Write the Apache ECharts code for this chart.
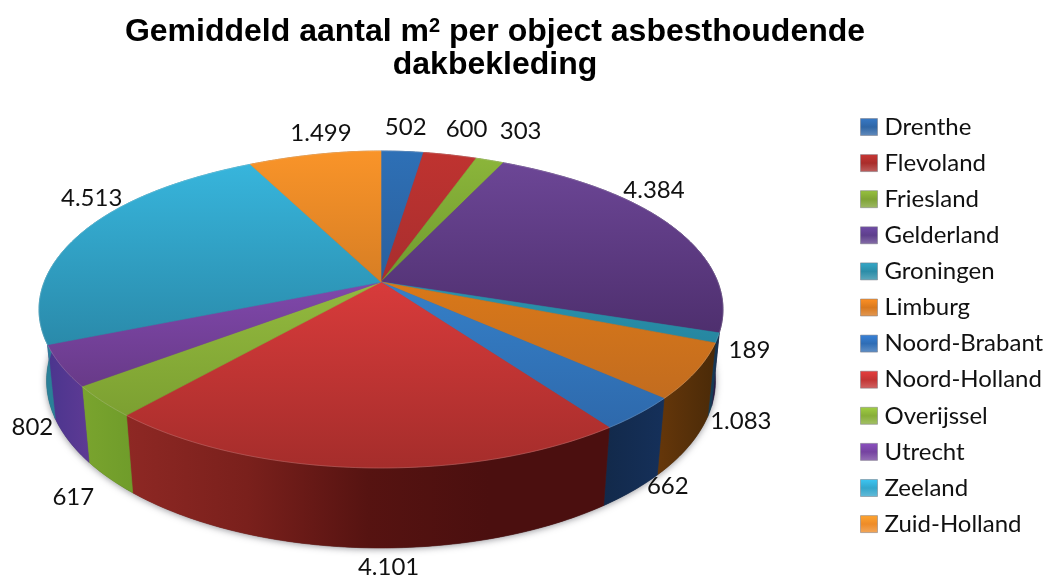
<!DOCTYPE html>
<html>
<head>
<meta charset="utf-8">
<title>Gemiddeld aantal m2 per object</title>
<style>
html, body { margin: 0; padding: 0; background: #fff; }
#main { width: 1053px; height: 577px; }
</style>
<script src="https://cdn.jsdelivr.net/npm/echarts@6/dist/echarts.min.js"></script>
</head>
<body>
<div id="main"></div>
<script>
// data
var provinces = ['Drenthe', 'Flevoland', 'Friesland', 'Gelderland', 'Groningen', 'Limburg',
    'Noord-Brabant', 'Noord-Holland', 'Overijssel', 'Utrecht', 'Zeeland', 'Zuid-Holland'];
var values = [502, 600, 303, 4384, 189, 1083, 662, 4101, 617, 802, 4513, 1499];
var valueLabels = ['502', '600', '303', '4.384', '189', '1.083', '662', '4.101', '617', '802', '4.513', '1.499'];

// colours: top face upper to lower, wall left to right
var topColors = [
    ['#2E70B6', '#2A5F9C'], ['#BF3330', '#A82E2E'], ['#8BB53A', '#6F9A30'], ['#6C4696', '#4E2F6E'],
    ['#2A93AE', '#2686A0'], ['#D97819', '#C26C1F'], ['#3580C8', '#2E69AC'], ['#D83B3B', '#A52D2B'],
    ['#93BA3F', '#7CA031'], ['#8048AC', '#683A88'], ['#37B5DC', '#2A8AAA'], ['#F99429', '#D77E24']
];
var wallColors = [
    ['#1E4470', '#1E4470'], ['#6E1C1A', '#6E1C1A'], ['#55701F', '#55701F'], ['#3A2458', '#2A1A42'],
    ['#16405A', '#16304E'], ['#66370A', '#4A2A08'], ['#12294A', '#15305A'],
    ['#8E2824', '#7A201C', '#561311', '#4B0F0F', '#4B0F0F'],
    ['#7AA42E', '#6F9C2A'], ['#4A358E', '#5E3A94'], ['#2A8098', '#2A8098'], ['#9A5A18', '#9A5A18']
];
var legendColors = ['#2F66A6', '#A92D2B', '#7FA335', '#5E3F8C', '#2C8DA8', '#D9791E',
    '#2F6DB5', '#C23434', '#87AE38', '#7543A0', '#33A6CC', '#EE8B28'];
// label offset from the outer rim at the middle of the slice
var labelNudge = [[3.5, -24], [17, -26], [31, -29], [-18, -36], [32, 12], [45, 50],
    [29, 73], [27, 100], [-29, 96], [-29, 61], [10, -35], [4, -21]];

var total = 0;
for (var i = 0; i < values.length; i++) total += values[i];

// perspective of the disc, fitted on the picture
var pieX = 381, pieY = 282, scaleX = 336.8, scaleY = 104.8, persp = -0.1735;
var depthY = 78.1, depthW = 0.0219;

function project(angle, z) {
    var u = Math.sin(angle), v = -Math.cos(angle);
    var w = 1 + persp * v + depthW * z;
    // the far side is a bit narrower in the picture than plain perspective gives
    var narrow = v < 0 ? 1 - 0.1 * Math.pow(-v, 6) : 1;
    return [pieX + scaleX * narrow * u / w, (pieY + scaleY * v + depthY * z) / w];
}

function sliceAngles(index, value) {
    var before = 0;
    for (var i = 0; i < index; i++) before += values[i];
    return [before / total * Math.PI * 2, (before + value) / total * Math.PI * 2];
}

function arcPoints(a0, a1, z) {
    var pts = [];
    var steps = Math.max(2, Math.ceil((a1 - a0) / 0.015));
    for (var s = 0; s <= steps; s++) {
        pts.push(project(a0 + (a1 - a0) * s / steps, z));
    }
    return pts;
}

function gradient(horizontal, colors) {
    var stops = colors.map(function (c, i) {
        return { offset: i / (colors.length - 1), color: c };
    });
    return horizontal
        ? new echarts.graphic.LinearGradient(0, 0, 1, 0, stops)
        : new echarts.graphic.LinearGradient(0, 0, 0, 1, stops);
}

// soft halo under the whole disc
function renderHalo() {
    return {
        type: 'polygon',
        shape: { points: arcPoints(0, Math.PI * 2, 1) },
        style: {
            fill: '#444',
            shadowBlur: 7,
            shadowOffsetY: 1,
            shadowColor: 'rgba(70,70,80,0.6)'
        }
    };
}

function renderWall(index) {
    return function (params, api) {
        var a = sliceAngles(index, api.value(0));
        var pts = arcPoints(a[0], a[1], 0).concat(arcPoints(a[0], a[1], 1).reverse());
        var fill = gradient(true, wallColors[index]);
        return {
            type: 'polygon',
            shape: { points: pts },
            style: { fill: fill, stroke: fill, lineWidth: 0.6 }
        };
    };
}

function renderTop(index) {
    return function (params, api) {
        var a = sliceAngles(index, api.value(0));
        var pts = [[pieX, pieY]].concat(arcPoints(a[0], a[1], 0));
        var mid = project((a[0] + a[1]) / 2, 0);
        var fill = gradient(false, topColors[index]);
        return {
            type: 'group',
            children: [{
                type: 'polygon',
                shape: { points: pts },
                style: { fill: fill, stroke: fill, lineWidth: 0.6 }
            }, {
                // light rim on the edge
                type: 'polyline',
                z2: 5,
                shape: { points: arcPoints(a[0], a[1], 0) },
                style: { fill: null, stroke: 'rgba(255,255,255,0.16)', lineWidth: 1 }
            }, {
                type: 'text',
                z2: 10,
                style: {
                    x: mid[0] + labelNudge[index][0],
                    y: mid[1] + labelNudge[index][1],
                    text: valueLabels[index],
                    align: 'center',
                    verticalAlign: 'middle',
                    fontFamily: 'Lato',
                    fontSize: 24,
                    fill: '#111'
                }
            }]
        };
    };
}

var series = [{
    type: 'custom', coordinateSystem: 'none', z: 1, silent: true,
    renderItem: renderHalo, data: [[total]]
}];
provinces.forEach(function (name, i) {
    series.push({
        type: 'custom', name: name, coordinateSystem: 'none', z: 2,
        itemStyle: { color: legendColors[i] },
        renderItem: renderWall(i), data: [[values[i]]], silent: true
    });
});
provinces.forEach(function (name, i) {
    series.push({
        type: 'custom', name: name, coordinateSystem: 'none', z: 3,
        itemStyle: { color: legendColors[i] },
        renderItem: renderTop(i), data: [[values[i]]], silent: true
    });
});

var myChart = echarts.init(document.getElementById('main'), null, { renderer: 'canvas' });

var option = {
    backgroundColor: '#fff',
    animation: false,
    title: {
        text: 'Gemiddeld aantal m{s|2} per object asbesthoudende\ndakbekleding',
        left: 490,
        top: 11,
        textAlign: 'center',
        textStyle: {
            fontFamily: 'Liberation Sans',
            fontWeight: 'bold',
            fontSize: 32,
            lineHeight: 33,
            color: '#000',
            rich: {
                s: {
                    fontFamily: 'Liberation Sans',
                    fontWeight: 'bold',
                    fontSize: 20,
                    lineHeight: 33,
                    verticalAlign: 'top',
                    color: '#000'
                }
            }
        }
    },
    legend: {
        orient: 'vertical',
        left: 855,
        top: 110,
        itemWidth: 17,
        itemHeight: 17,
        itemGap: 12.1,
        icon: 'rect',
        selectedMode: false,
        textStyle: { fontFamily: 'Lato', fontSize: 24, color: '#111', padding: [0, 0, 0, 2] },
        data: provinces.map(function (name, i) {
            return {
                name: name,
                itemStyle: {
                    color: new echarts.graphic.LinearGradient(0, 0, 0, 1, [
                        { offset: 0, color: echarts.color.lift(legendColors[i], -0.2) },
                        { offset: 0.5, color: legendColors[i] },
                        { offset: 1, color: echarts.color.lift(legendColors[i], 0.25) }
                    ]),
                    borderColor: 'rgba(120,120,130,0.5)',
                    borderWidth: 1
                }
            };
        })
    },
    series: series
};

// 使用刚指定的配置项和数据显示图表。
myChart.setOption(option);
</script>
</body>
</html>
